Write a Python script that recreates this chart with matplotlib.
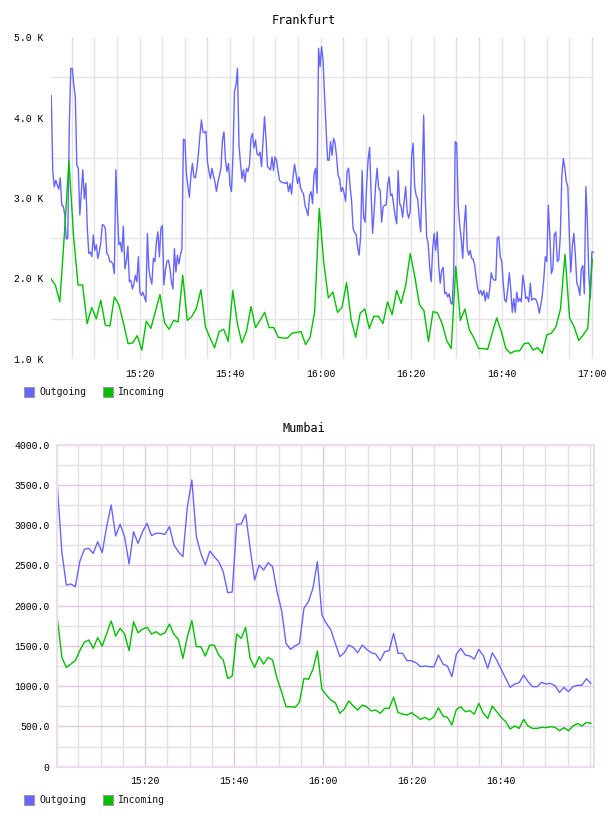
import numpy as np
import matplotlib
matplotlib.use("Agg")
import matplotlib.pyplot as plt
from matplotlib.patches import Rectangle
from matplotlib.ticker import FixedLocator, MultipleLocator

# Frankfurt, values in K, outgoing sampled ~every 20 s, incoming every minute
fra_out = [
    4.27, 3.33, 3.14, 3.22, 3.16, 3.11, 3.25, 2.91, 2.90, 2.79, 2.49, 2.50, 3.9, 4.61, 4.61, 4.40, 4.26, 3.41,
    3.37, 2.79, 3.08, 3.35, 2.99, 3.18, 2.62, 2.31, 2.33, 2.27, 2.54, 2.35, 2.42, 2.25, 2.33, 2.45, 2.67, 2.66,
    2.62, 2.31, 2.29, 2.21, 2.21, 2.18, 2.06, 3.35, 2.85, 2.42, 2.45, 2.33, 2.65, 2.12, 2.21, 2.40, 1.96, 1.98,
    1.87, 1.93, 2.04, 1.96, 2.27, 1.83, 1.79, 1.83, 1.77, 1.71, 2.56, 2.12, 2.0, 1.93, 2.25, 2.21, 2.45, 2.58,
    2.27, 2.62, 2.66, 1.92, 2.10, 2.21, 2.23, 2.13, 1.96, 1.87, 2.37, 2.08, 2.29, 2.18, 2.29, 2.37, 3.73, 3.72,
    3.30, 3.14, 3.01, 3.28, 3.43, 3.26, 3.25, 3.37, 3.55, 3.78, 3.97, 3.82, 3.81, 3.83, 3.45, 3.33, 3.24, 3.37,
    3.28, 3.20, 3.08, 3.20, 3.28, 3.37, 3.72, 3.82, 3.47, 3.33, 3.43, 3.16, 3.08, 3.53, 4.32, 4.40, 4.61, 3.66,
    3.43, 3.24, 3.35, 3.20, 3.37, 3.33, 3.41, 3.74, 3.80, 3.62, 3.72, 3.55, 3.53, 3.57, 3.39, 3.70, 4.01, 3.74,
    3.39,
    3.37, 3.35, 3.51, 3.34, 3.51, 3.47, 3.34, 3.22, 3.20, 3.19, 3.19, 3.18, 3.20, 3.08, 3.18, 3.05, 3.26, 3.42,
    3.30, 3.18, 3.26, 3.13, 3.08, 3.05, 2.91, 2.85, 2.78, 3.03, 3.08, 2.93, 3.30, 3.37, 3.06, 4.86, 4.63, 4.88,
    4.71, 4.26, 3.87, 3.47, 3.47, 3.70, 3.53, 3.74, 3.68, 3.51, 3.28, 3.24, 3.08, 3.13, 3.06, 2.96, 3.33, 3.37,
    3.14, 2.96, 2.62, 2.57, 2.55, 2.39, 2.29, 2.52, 3.34, 2.76, 2.70, 3.16, 3.48, 3.63, 3.05, 2.56, 2.83, 3.16,
    3.37, 3.12,
    3.10, 2.70, 2.89, 2.91, 2.91, 3.16, 3.26, 3.03, 3.05, 2.91, 2.78, 2.68, 3.34, 2.93, 2.89, 2.76, 2.96, 3.14,
    2.83, 2.75, 2.83, 3.53, 3.68, 3.14, 3.03, 2.99, 2.76, 2.58, 3.24, 4.03, 3.03, 2.52, 2.43, 2.14, 1.96, 2.37,
    2.56, 2.35, 2.58, 2.16, 1.94, 2.10, 2.14, 1.81, 1.83, 1.77, 1.81, 1.70, 1.68, 2.08, 3.70, 3.68, 2.91, 2.66,
    2.50, 2.25, 2.66, 2.91, 2.37, 2.29, 2.35, 2.25, 2.24, 2.16, 2.0, 1.87, 1.81, 1.85, 1.79, 1.85, 1.72, 1.83,
    1.75,
    1.87, 2.07, 2.0, 1.98, 1.98, 2.50, 2.52, 2.27, 2.21, 1.94, 1.73, 1.71, 1.87, 2.07, 1.87, 1.58, 1.75, 1.58,
    1.83, 1.71, 1.75, 1.71, 2.04, 1.92, 1.75, 1.77, 1.71, 1.94, 1.73, 1.75, 1.75, 1.73, 1.67, 1.57, 1.67, 1.79,
    2.0, 2.27, 2.21, 2.91, 2.54, 2.06, 2.12, 2.54, 2.58, 2.21, 2.23, 2.54, 3.28, 3.49, 3.37, 3.20, 3.14, 2.54,
    2.08, 2.41, 2.56, 2.29, 1.94, 1.89, 1.79, 2.12, 2.16, 1.81, 3.14, 2.70, 2.04, 1.75, 2.33, 2.33,
]
fra_in = [
    2.0, 1.92, 1.71, 2.55, 3.46, 2.54, 1.92, 1.92, 1.44, 1.64, 1.5, 1.73, 1.42, 1.41, 1.77, 1.67, 1.44, 1.19,
    1.2, 1.29, 1.11, 1.47, 1.38, 1.59, 1.8, 1.45, 1.37, 1.48, 1.46, 2.04, 1.48, 1.53, 1.63, 1.86, 1.4,
    1.26, 1.14, 1.34, 1.37, 1.22, 1.85, 1.44, 1.20, 1.34, 1.65, 1.39, 1.48, 1.58, 1.39, 1.39, 1.27, 1.26, 1.26,
    1.32, 1.33, 1.34, 1.18, 1.27, 1.59, 2.87, 2.19, 1.76, 1.83, 1.58, 1.64, 1.95, 1.49, 1.27, 1.57, 1.62, 1.38,
    1.53, 1.53, 1.44, 1.71, 1.55, 1.85, 1.69, 1.92, 2.31,
    2.02, 1.68, 1.60, 1.22, 1.59, 1.57, 1.44, 1.23, 1.13, 2.15, 1.48, 1.62, 1.36, 1.26, 1.13, 1.13, 1.12, 1.32,
    1.51, 1.34, 1.13, 1.07, 1.10, 1.10, 1.19, 1.20, 1.11, 1.14, 1.07, 1.30, 1.32, 1.40, 1.62, 2.30, 1.51, 1.40,
    1.23, 1.30, 1.38, 2.24,
]

# Mumbai, one sample per minute
mum_out = [
    3487, 2671, 2257, 2269, 2236, 2547, 2700, 2712, 2650, 2795, 2659, 2982, 3251, 2866, 3011, 2857, 2518, 2919,
    2774, 2919, 3023, 2870, 2899, 2899, 2886, 2982, 2754, 2671, 2609, 3230, 3561, 2857, 2650, 2505, 2679,
    2609, 2547, 2422, 2162, 2170, 3015, 3015, 3135, 2712, 2319, 2505, 2443, 2534, 2485, 2174, 1946, 1532, 1458,
    1499, 1532, 1967, 2050, 2215, 2547, 1884, 1781, 1698, 1532, 1367, 1416, 1511, 1482, 1416, 1511, 1458, 1416,
    1400, 1317, 1429, 1441, 1656, 1408, 1408, 1317,
    1317, 1292, 1242, 1251, 1242, 1242, 1387, 1275, 1251, 1118, 1400, 1470, 1387, 1375, 1337, 1458, 1379, 1222,
    1416, 1325, 1209, 1097, 986, 1027, 1044, 1139, 1056, 994, 994, 1048, 1027, 1035, 1006, 923, 986, 932, 994,
    1011, 1011, 1093, 1035,
]
mum_in = [
    1843, 1358, 1234, 1275, 1317, 1441, 1545, 1574, 1470, 1603, 1499, 1656, 1810, 1623, 1719, 1648, 1441, 1801,
    1664, 1710, 1731, 1648, 1677, 1636, 1664, 1772, 1644, 1582, 1346, 1615, 1814, 1491, 1491, 1375, 1511,
    1511, 1387, 1325, 1097, 1126, 1648, 1594, 1731, 1346, 1234, 1367, 1275, 1358, 1325, 1097, 932, 745, 745,
    737, 799, 1097, 1085, 1209, 1437, 961, 890, 828, 795, 663, 716, 816, 754, 704, 766, 745, 692, 704, 663,
    725, 725, 861, 671, 654, 642,
    671, 629, 588, 613, 580, 621, 733, 629, 613, 518, 712, 745, 683, 696, 654, 787, 663, 600, 754, 683, 613,
    559, 468, 505, 476, 588, 505, 476, 476, 489, 485, 497, 489, 447, 485, 447, 505, 538, 505, 551, 538,
]

# minutes after 15:00
t_fra_out = np.linspace(0.5, 120.3, len(fra_out))
t_fra_in = np.linspace(0.38, 120.07, len(fra_in))
t_mum = np.linspace(0.3, 120.2, len(mum_out))

time_ticks = [20, 40, 60, 80, 100, 120]
time_labels = ["15:20", "15:40", "16:00", "16:20", "16:40", "17:00"]

BLUE = "#6666ff"
GREEN = "#00c000"
W, H = 608, 816
mono = "DejaVu Sans Mono"
tickfont = "Liberation Mono"

fig = plt.figure(figsize=(W / 100, H / 100), dpi=100)


def rect(l, t, r, b):
    return [l / W, 1 - b / H, (r - l) / W, (b - t) / H]


def legend(y):
    for x0, col, lab in [(24, BLUE, "Outgoing"), (103, GREEN, "Incoming")]:
        fig.patches.append(Rectangle((x0 / W, 1 - (y + 5) / H), 10 / W, 10 / H,
                                     transform=fig.transFigure, facecolor=col,
                                     edgecolor="#999999", lw=0.8))
        fig.text((x0 + 15) / W, 1 - y / H, lab, family=mono, fontsize=7,
                 ha="left", va="center", color="#111111")


# ---- Frankfurt
ax1 = fig.add_axes(rect(51, 37, 594, 359))
ax1.plot(t_fra_out, fra_out, color=BLUE, lw=1.0)
ax1.plot(t_fra_in, fra_in, color=GREEN, lw=1.0)
ax1.set_xlim(0.44, 120.44)
ax1.set_ylim(1.0, 5.0)
for s in ax1.spines.values():
    s.set_visible(False)
ax1.xaxis.set_major_locator(FixedLocator(time_ticks))
ax1.set_xticklabels(time_labels)
ax1.xaxis.set_minor_locator(MultipleLocator(5))
ax1.yaxis.set_major_locator(FixedLocator([1, 2, 3, 4, 5]))
ax1.set_yticklabels(["1.0 K", "2.0 K", "3.0 K", "4.0 K", "5.0 K"])
ax1.yaxis.set_minor_locator(FixedLocator([1.5, 2.5, 3.5, 4.5]))
ax1.grid(True, axis="x", which="both", color="#e4e4e4", lw=1.0)
ax1.grid(True, axis="y", which="minor", color="#e4e4e4", lw=1.0)
ax1.set_axisbelow(True)
ax1.tick_params(which="both", length=0)
ax1.tick_params(axis="x", pad=7)
ax1.tick_params(axis="y", pad=5.5)
for lab in ax1.get_xticklabels() + ax1.get_yticklabels():
    lab.set_family(tickfont)
    lab.set_fontsize(7)
fig.text(0.5, 1 - 20 / H, "Frankfurt", family=mono, fontsize=8.5, ha="center", va="center")
legend(392)

# ---- Mumbai
ax2 = fig.add_axes(rect(57, 444.7, 594, 766.7))
ax2.plot(t_mum, mum_out, color=BLUE, lw=1.0)
ax2.plot(t_mum, mum_in, color=GREEN, lw=1.0)
ax2.set_xlim(0.22, 120.9)
ax2.set_ylim(0, 4000)
for s in ax2.spines.values():
    s.set_color("#eedcee")
    s.set_linewidth(1.5)
ax2.xaxis.set_major_locator(FixedLocator(time_ticks[:-1]))
ax2.set_xticklabels(time_labels[:-1])
ax2.xaxis.set_minor_locator(MultipleLocator(5))
ax2.yaxis.set_major_locator(MultipleLocator(500))
ax2.yaxis.set_minor_locator(MultipleLocator(250))
ax2.set_yticklabels(["0" if v == 0 else "%.1f" % v for v in ax2.get_yticks()])
ax2.grid(True, which="major", color="#e2c8e2", lw=1.0)
ax2.grid(True, which="minor", color="#e4e0e4", lw=1.0)
ax2.set_axisbelow(True)
ax2.tick_params(which="both", length=0)
ax2.tick_params(axis="x", pad=7)
ax2.tick_params(axis="y", pad=5.5)
for lab in ax2.get_xticklabels() + ax2.get_yticklabels():
    lab.set_family(tickfont)
    lab.set_fontsize(7)
fig.text(0.5, 1 - 428 / H, "Mumbai", family=mono, fontsize=8.5, ha="center", va="center")
legend(800)

fig.savefig("out.png", dpi=100)
